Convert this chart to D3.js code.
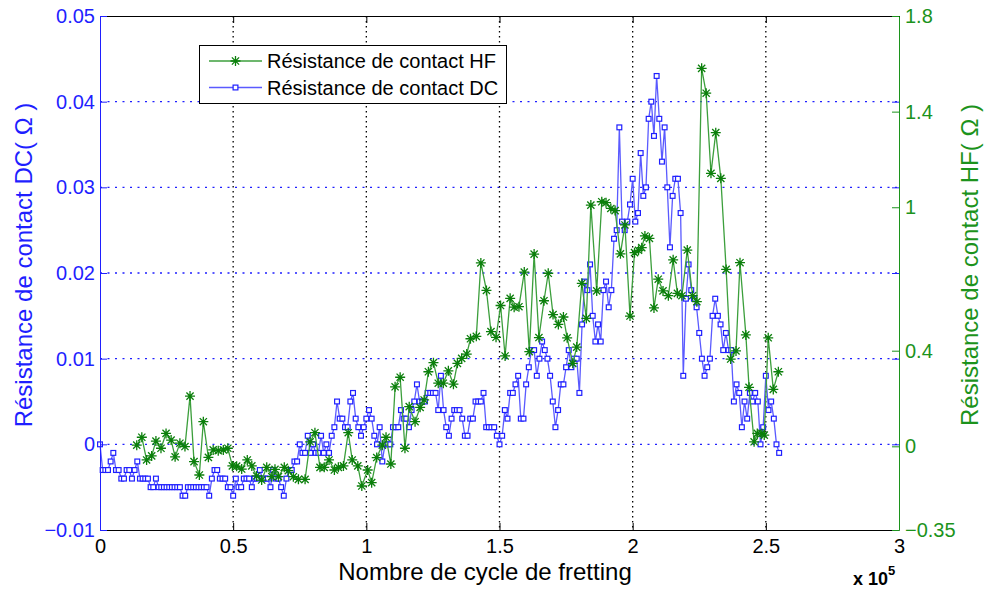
<!DOCTYPE html>
<html>
<head>
<meta charset="utf-8">
<script src="https://cdn.jsdelivr.net/npm/d3@7"></script>
<style>
  html, body { margin: 0; padding: 0; background: #fff; }
  svg { display: block; font-family: "Liberation Sans", Arial, sans-serif; }
</style>
</head>
<body>
<svg id="chart" width="989" height="590"></svg>
<script>
// DC contact resistance (ohm), one reading every 1000 fretting cycles from cycle 0
const dcStartCycle = 0;
const dcCycleStep = 1000;
const dcValues = [
  0,-0.003,-0.003,-0.003,-0.002,-0.001,-0.003,-0.003,-0.004,-0.004,
  -0.003,-0.003,-0.004,-0.003,-0.002,-0.004,-0.004,-0.004,-0.004,-0.005,
  -0.005,-0.004,-0.005,-0.005,-0.005,-0.005,-0.005,-0.005,-0.005,-0.005,
  -0.005,-0.006,-0.006,-0.005,-0.005,-0.005,-0.005,-0.005,-0.005,-0.005,
  -0.005,-0.006,-0.004,-0.003,-0.003,-0.004,-0.004,-0.004,-0.005,-0.005,
  -0.006,-0.004,-0.005,-0.005,-0.004,-0.004,-0.004,-0.005,-0.004,-0.004,
  -0.003,-0.004,-0.004,-0.004,-0.005,-0.003,-0.004,-0.004,-0.005,-0.006,
  -0.004,-0.003,-0.003,-0.002,-0.002,0,-0.001,-0.001,0.001,-0.001,
  0,-0.001,-0.001,0.001,-0.001,0,-0.001,0.001,0.002,0.005,
  0.003,0.003,0.002,0.002,0.005,0.006,0.003,0.002,0.001,0.002,
  0.003,0.004,0.003,0.001,0,0.002,-0.002,0,0,0,
  0.002,0.002,0.002,0.004,0.003,0.003,0.002,0.004,0.005,0.007,
  0.005,0.005,0.005,0.006,0.006,0.006,0.006,0.004,0.008,0.004,
  0.002,0.001,0.003,0.004,0.004,0.004,0.003,0.001,0.001,0.003,
  0.003,0.005,0.005,0.005,0.006,0.002,0.002,0.002,0.002,0.001,
  0,0.001,0.004,0.003,0.006,0.006,0.007,0.008,0.003,0.003,
  0.007,0.009,0.011,0.011,0.008,0.010,0.012,0.011,0.010,0.008,
  0.005,0.002,0.004,0.007,0.007,0.009,0.011,0.009,0.010,0.010,
  0.006,0.014,0.019,0.018,0.021,0.015,0.012,0.014,0.012,0.018,
  0.019,0.016,0.018,0.024,0.025,0.037,0.026,0.025,0.026,0.028,
  0.031,0.026,0.027,0.034,0.029,0.030,0.038,0.040,0.036,0.043,
  0.038,0.033,0.037,0.030,0.023,0.029,0.031,0.031,0.027,0.008,
  0.017,0.021,0.018,0.017,0.016,0.013,0.010,0.008,0.009,0.010,
  0.015,0.017,0.015,0.014,0.011,0.013,0.011,0.011,0.005,0.007,
  0.006,0.002,0.005,0.003,0.006,0.005,0.006,0.005,0,0.002,
  0.008,0.004,0.005,0.003,0,-0.001
];

// HF contact resistance (ohm) and the cycle count of each reading
const hfCycles = [
  13800,15700,17500,19400,21000,22900,24800,26700,28200,30000,
  31900,33800,35300,37300,38800,40700,42500,44400,46300,48000,
  49700,51300,53200,55300,57000,58800,60700,62600,64500,65700,
  67000,69200,70700,72600,74500,77000,78900,80700,82600,84200,
  86000,88000,89500,91400,93200,94700,96800,98300,100500,102000,
  103900,106000,107400,109200,110800,112700,114500,116100,118300,120200,
  121700,123300,125200,127000,128900,130800,132700,134200,135800,137700,
  139100,141300,143000,145100,146800,148700,150400,152100,154000,155500,
  157300,159300,161200,163000,164800,166700,168300,170100,172100,174000,
  175400,177500,179000,180900,182600,184300,186500,188400,190000,191800,
  193400,195400,197100,199000,200700,202200,203400,204600,206300,208000,
  209600,211400,213400,215200,216800,218500,220500,222500,224100,225900,
  227600,229400,231200,233100,235100,236800,238800,240300,242500,243700,
  245600,246800,248500,249400,250900,252800,254700
];
const hfValues = [
  0.005,0.038,-0.057,-0.040,0.022,-0.008,0.054,0.026,-0.044,0.013,
  -0.001,0.210,-0.064,-0.120,0.103,-0.046,-0.015,-0.018,-0.015,-0.008,
  -0.082,-0.083,-0.095,-0.057,-0.082,-0.124,-0.141,-0.088,-0.127,-0.096,
  -0.127,-0.088,-0.102,-0.127,-0.138,-0.138,0.019,0.057,-0.088,-0.088,
  -0.057,-0.099,-0.088,-0.082,0.057,-0.057,-0.082,-0.166,-0.099,-0.152,
  -0.047,0.005,0.038,-0.074,0.249,0.289,-0.008,0.166,0.103,0.163,
  0.194,0.312,0.350,0.264,0.264,0.316,0.260,0.347,0.368,0.386,
  0.450,0.460,0.767,0.652,0.480,0.456,0.589,0.378,0.619,0.582,
  0.584,0.729,0.396,0.804,0.455,0.609,0.724,0.551,0.510,0.541,
  0.454,0.347,0.415,0.682,0.535,1.009,0.650,1.023,1.019,0.995,
  0.986,0.805,0.926,0.545,0.810,0.820,0.831,0.880,0.870,0.579,
  0.699,0.650,0.630,0.780,0.640,0.630,0.821,0.630,0.605,1.581,
  1.477,1.142,1.312,1.121,0.740,0.365,0.399,0.768,0.466,0.247,
  0.019,0.054,0.054,0.047,0.454,0.238,0.312
];

// Axis ticks and their labels
const xTicks = [0, 50000, 100000, 150000, 200000, 250000, 300000];
const xTickLabels = ["0", "0.5", "1", "1.5", "2", "2.5", "3"];
const dcTicks = [-0.01, 0, 0.01, 0.02, 0.03, 0.04, 0.05];
const dcTickLabels = ["\u22120.01", "0", "0.01", "0.02", "0.03", "0.04", "0.05"];
const hfTicks = [-0.35, 0, 0.4, 1, 1.4, 1.8];
const hfTickLabels = ["\u22120.35", "0", "0.4", "1", "1.4", "1.8"];
const seriesNames = ["Résistance de contact HF", "Résistance de contact DC"];

const BLUE = "#1f1fff", BLUE_LINE = "#5a5aff";
const GREEN = "#0b7f0b", GREEN_LINE = "#3c9f3c";
const GREEN_AXIS = "#1c931c";

const svg = d3.select("#chart");
const plotLeft = 100, plotRight = 899, plotTop = 16, plotBottom = 530;

const x = d3.scaleLinear().domain([0, 300000]).range([plotLeft, plotRight]);
const yDC = d3.scaleLinear().domain([-0.01, 0.05]).range([plotBottom, plotTop]);
const yHF = d3.scaleLinear().domain([-0.35, 1.8]).range([plotBottom, plotTop]);

const dcData = dcValues.map((v, i) => ({ c: dcStartCycle + i * dcCycleStep, v }));
const hfData = hfCycles.map((c, i) => ({ c, v: hfValues[i] }));

// Grid: blue dotted at DC ticks, black dotted at cycle ticks
const grid = svg.append("g");
grid.selectAll("line.h")
  .data(dcTicks.filter(t => t > -0.01 && t < 0.05))
  .join("line")
  .attr("x1", plotLeft).attr("x2", plotRight)
  .attr("y1", d => yDC(d)).attr("y2", d => yDC(d))
  .attr("stroke", BLUE).attr("stroke-width", 1.3)
  .attr("stroke-dasharray", "2,5.5");
grid.selectAll("line.v")
  .data(xTicks.filter(t => t > 0 && t < 300000))
  .join("line")
  .attr("x1", d => x(d)).attr("x2", d => x(d))
  .attr("y1", plotTop).attr("y2", plotBottom)
  .attr("stroke", "#000").attr("stroke-width", 1.3)
  .attr("stroke-dasharray", "1.6,3.4");

// Marker shapes
const starPath = "M-5,0L5,0M0,-5L0,5M-3.6,-3.6L3.6,3.6M-3.6,3.6L3.6,-3.6";
const sq = 4.8;

// DC series
svg.append("path")
  .datum(dcData)
  .attr("fill", "none")
  .attr("stroke", BLUE_LINE)
  .attr("stroke-width", 1.3)
  .attr("stroke-linejoin", "round")
  .attr("d", d3.line().x(d => x(d.c)).y(d => yDC(d.v)));
svg.append("g").selectAll("rect")
  .data(dcData)
  .join("rect")
  .attr("x", d => x(d.c) - sq / 2)
  .attr("y", d => yDC(d.v) - sq / 2)
  .attr("width", sq).attr("height", sq)
  .attr("fill", "#fff")
  .attr("stroke", BLUE).attr("stroke-width", 1.2);

// HF series
svg.append("path")
  .datum(hfData)
  .attr("fill", "none")
  .attr("stroke", GREEN_LINE)
  .attr("stroke-width", 1.3)
  .attr("stroke-linejoin", "round")
  .attr("d", d3.line().x(d => x(d.c)).y(d => yHF(d.v)));
svg.append("g").selectAll("path")
  .data(hfData)
  .join("path")
  .attr("transform", d => `translate(${x(d.c)},${yHF(d.v)})`)
  .attr("d", starPath)
  .attr("fill", "none")
  .attr("stroke", GREEN).attr("stroke-width", 1.3);

// Axes
const tickFont = g => g.selectAll("text")
  .style("font-family", '"Liberation Sans", Arial, sans-serif')
  .style("font-size", "20px");

const axBottom = svg.append("g")
  .attr("transform", `translate(0,${plotBottom})`)
  .call(d3.axisBottom(x).tickValues(xTicks)
    .tickFormat((d, i) => xTickLabels[i])
    .tickSizeInner(-7).tickSizeOuter(0).tickPadding(9));
axBottom.call(tickFont);
axBottom.selectAll("path, line").attr("stroke", "#000");
axBottom.selectAll("text").attr("fill", "#000");

const axTop = svg.append("g")
  .attr("transform", `translate(0,${plotTop})`)
  .call(d3.axisTop(x).tickValues(xTicks).tickFormat("")
    .tickSizeInner(-7).tickSizeOuter(0));
axTop.selectAll("path, line").attr("stroke", "#000");

const axLeft = svg.append("g")
  .attr("transform", `translate(${plotLeft},0)`)
  .call(d3.axisLeft(yDC).tickValues(dcTicks)
    .tickFormat((d, i) => dcTickLabels[i])
    .tickSizeInner(-7).tickSizeOuter(0).tickPadding(5));
axLeft.call(tickFont);
axLeft.selectAll("path, line").attr("stroke", BLUE);
axLeft.selectAll("text").attr("fill", BLUE);

// DC tick marks mirrored on the right edge
const axRightDC = svg.append("g")
  .attr("transform", `translate(${plotRight},0)`)
  .call(d3.axisRight(yDC).tickValues(dcTicks).tickFormat("")
    .tickSizeInner(-7).tickSizeOuter(0));
axRightDC.selectAll("path").remove();
axRightDC.selectAll("line").attr("stroke", BLUE);

const axRight = svg.append("g")
  .attr("transform", `translate(${plotRight},0)`)
  .call(d3.axisRight(yHF).tickValues(hfTicks)
    .tickFormat((d, i) => hfTickLabels[i])
    .tickSizeInner(-7).tickSizeOuter(0).tickPadding(6));
axRight.call(tickFont);
axRight.selectAll("path, line").attr("stroke", GREEN_AXIS);
axRight.selectAll("text").attr("fill", GREEN_AXIS);

// Axis titles
svg.append("text")
  .attr("x", 485).attr("y", 580)
  .attr("text-anchor", "middle")
  .style("font-size", "24px").attr("fill", "#000")
  .text("Nombre de cycle de fretting");

const mult = svg.append("text")
  .attr("x", 853).attr("y", 585)
  .style("font-size", "18px").style("font-weight", "bold").attr("fill", "#000");
mult.append("tspan").text("x 10");
mult.append("tspan").attr("dy", -10).style("font-size", "13px").text("5");

svg.append("text")
  .attr("transform", "translate(24,265) rotate(-90)")
  .attr("text-anchor", "middle").attr("dy", "0.35em")
  .style("font-size", "24px").attr("fill", BLUE)
  .text("Résistance de contact DC( Ω )");

svg.append("text")
  .attr("transform", "translate(970,265) rotate(-90)")
  .attr("text-anchor", "middle").attr("dy", "0.35em")
  .style("font-size", "24px").attr("fill", GREEN_AXIS)
  .text("Résistance de contact HF( Ω )");

// Legend
const legend = svg.append("g");
legend.append("rect")
  .attr("x", 199.5).attr("y", 45.5).attr("width", 307).attr("height", 58)
  .attr("fill", "#fff").attr("stroke", "#000").attr("stroke-width", 1);
const rows = [
  { name: seriesNames[0], line: GREEN_LINE, mark: GREEN, kind: "star", y: 61 },
  { name: seriesNames[1], line: BLUE_LINE, mark: BLUE, kind: "square", y: 87.5 }
];
rows.forEach(r => {
  legend.append("line")
    .attr("x1", 209).attr("x2", 262).attr("y1", r.y).attr("y2", r.y)
    .attr("stroke", r.line).attr("stroke-width", 1.3);
  if (r.kind === "star") {
    legend.append("path")
      .attr("transform", `translate(235.5,${r.y})`)
      .attr("d", starPath).attr("fill", "none")
      .attr("stroke", r.mark).attr("stroke-width", 1.3);
  } else {
    legend.append("rect")
      .attr("x", 235.5 - sq / 2).attr("y", r.y - sq / 2)
      .attr("width", sq).attr("height", sq)
      .attr("fill", "#fff").attr("stroke", r.mark).attr("stroke-width", 1.2);
  }
  legend.append("text")
    .attr("x", 267).attr("y", r.y).attr("dy", "0.35em")
    .style("font-size", "20px").attr("fill", "#000")
    .text(r.name);
});
</script>
</body>
</html>
